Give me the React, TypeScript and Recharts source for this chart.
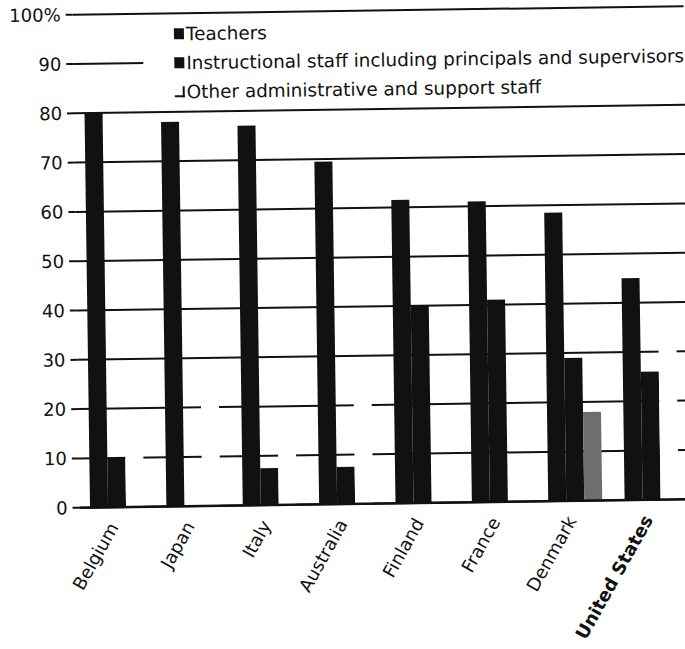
import { BarChart, Bar, XAxis, YAxis, CartesianGrid, Legend, Cell } from "recharts";

const countries = ["Belgium", "Japan", "Italy", "Australia", "Finland", "France", "Denmark", "United States"];
const teachers = [80, 78, 77, 69.5, 61.5, 61, 58.5, 45];
const instructional = [10, 0, 7.5, 7.5, 40, 41, 29, 26];
const otherStaff = [13, 23, 14, 29, 0, 0, 18, 33];
const yTicks = [0, 10, 20, 30, 40, 50, 60, 70, 80, 90, 100];

const FONT = "'DejaVu Sans', sans-serif";
const INK = "#111";

const data = countries.map((country, i) => ({
  country,
  teachers: teachers[i],
  instructional: instructional[i],
  other: otherStaff[i],
}));

const CountryTick = ({ x, y, payload }: any) => {
  const bold = payload.value === "United States";
  return (
    <g transform={`translate(${x + 1},${y + 20})`}>
      <text
        transform="rotate(-60)"
        textAnchor="end"
        fontFamily={FONT}
        fontSize={18}
        fontWeight={bold ? "bold" : "normal"}
        fill={INK}
      >
        {payload.value}
      </text>
    </g>
  );
};

const legendRows = [
  { label: "Teachers", filled: true },
  { label: "Instructional staff including principals and supervisors", filled: true },
  { label: "Other administrative and support staff", filled: false },
];

const StaffLegend = () => (
  <div style={{ paddingLeft: 31, fontFamily: FONT, fontSize: 18.4, color: INK, lineHeight: "29px" }}>
    {legendRows.map((row) => (
      <div key={row.label} style={{ display: "flex", alignItems: "center", whiteSpace: "nowrap" }}>
        <span
          style={{
            display: "inline-block",
            width: 10,
            height: 11,
            marginRight: 2,
            boxSizing: "border-box",
            background: row.filled ? INK : "#fff",
            borderRight: row.filled ? "none" : `2px solid ${INK}`,
            borderBottom: row.filled ? "none" : `2px solid ${INK}`,
          }}
        />
        <span>{row.label}</span>
      </div>
    ))}
  </div>
);

const App = () => {
  return (
    <div style={{ position: "absolute", left: 0, top: 0, width: 685, height: 649, overflow: "hidden", background: "#fff" }}>
      <div style={{ transform: "rotate(-0.8deg)", transformOrigin: "342px 324px" }}>
        <BarChart
          width={700}
          height={649}
          data={data}
          margin={{ top: 11, right: 12, left: 0, bottom: 0 }}
          barCategoryGap={10.5}
          barGap={0}
        >
          <CartesianGrid vertical={false} stroke={INK} strokeWidth={2} />
          <XAxis
            dataKey="country"
            interval={0}
            height={145}
            tickLine={false}
            tickSize={0}
            tickMargin={0}
            axisLine={{ stroke: INK, strokeWidth: 2.5 }}
            tick={<CountryTick />}
          />
          <YAxis
            width={77}
            domain={[0, 100]}
            ticks={yTicks}
            interval={0}
            axisLine={false}
            tickSize={7}
            tickMargin={5}
            tickLine={{ stroke: INK, strokeWidth: 2 }}
            tickFormatter={(v: number) => (v === 100 ? "100%" : String(v))}
            tick={{ fontFamily: FONT, fontSize: 18, fill: INK }}
          />
          <Legend
            layout="vertical"
            align="center"
            verticalAlign="middle"
            content={<StaffLegend />}
            wrapperStyle={{ left: 147, top: 17, width: 545, height: 86, background: "#fff" }}
          />
          <Bar dataKey="teachers" name="Teachers" fill={INK} isAnimationActive={false} />
          <Bar dataKey="instructional" name="Instructional staff including principals and supervisors" fill={INK} isAnimationActive={false} />
          <Bar dataKey="other" name="Other administrative and support staff" fill="#fff" isAnimationActive={false}>
            {data.map((d) => (
              <Cell key={d.country} fill={d.country === "Denmark" ? "#6e6e6e" : "#fff"} />
            ))}
          </Bar>
        </BarChart>
      </div>
    </div>
  );
};

export default App;
